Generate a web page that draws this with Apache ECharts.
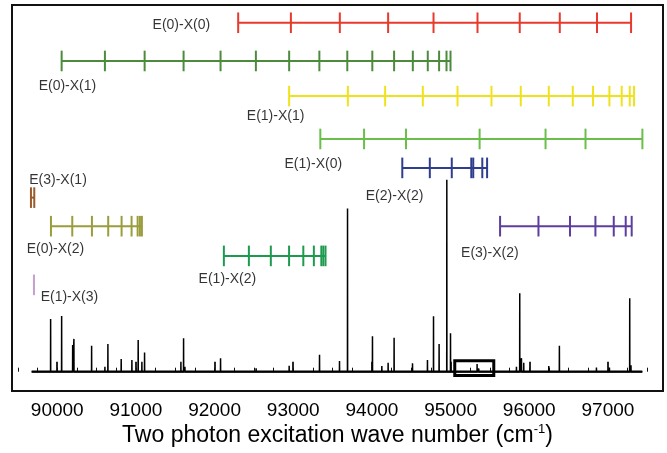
<!DOCTYPE html>
<html><head><meta charset="utf-8">
<script src="https://cdn.jsdelivr.net/npm/echarts@6/dist/echarts.min.js"></script>
<style>html,body{margin:0;padding:0;background:#fff}#c{width:667px;height:453px}</style>
</head><body><div id="c"></div>
<script>
// ---------- data (wave numbers in cm^-1, intensities in arbitrary units) ----------
const progE0X0 = [92300, 92970, 93592, 94206, 94783, 95342, 95879, 96388, 96861, 97294];
const progE0X1 = [90056, 90606, 91111, 91606, 92076, 92525, 92948, 93332, 93687, 94005, 94282, 94520, 94710, 94854, 94948, 94999];
const progE1X1 = [92948, 93694, 94168, 94647, 95088, 95520, 95892, 96248, 96553, 96811, 97019, 97175, 97277, 97332];
const progE1X0 = [93344, 93900, 94433, 95369, 96207, 96715, 97438];
const progE2X2 = [94386, 94736, 95015, 95263, 95288, 95403, 95464];
const progE3X1 = [89666, 89708];
const progE0X2 = [89920, 90191, 90441, 90648, 90818, 90945, 91022, 91051, 91076];
const progE3X2 = [95629, 96117, 96518, 96841, 97074, 97226, 97302];
const progE1X2 = [92118, 92436, 92715, 92947, 93128, 93262, 93357, 93382, 93410];
const progE1X3 = [89704];

// spectrum: [wave number, intensity]
const peaks = [
  [89916, 13.65], [90056, 14.4], [90196, 6.9], [90212, 8.5], [90437, 6.7], [90606, 1.3], [90644, 7.2],
  [90813, 3.3], [90949, 3.0], [91029, 8.2], [91076, 2.6], [91110, 5.0], [91572, 2.6], [91606, 8.65],
  [91623, 1.3], [92076, 3.5], [92528, 0.9], [92715, 0.5], [92948, 1.55], [93334, 4.4], [93588, 2.8],
  [93690, 42.3], [94007, 9.2], [94126, 1.5], [94206, 2.3], [94282, 8.8], [94516, 2.2], [94706, 3.0],
  [94783, 14.35], [94854, 7.2], [94952, 49.7], [94999, 9.95], [95337, 2.0], [95358, 0.8], [95837, 1.3],
  [95879, 20.3], [95901, 3.5], [95930, 2.3], [96248, 1.5], [96383, 6.7], [96854, 1.1], [97019, 1.1],
  [97166, 0.5], [97277, 19.0], [97293, 1.65], [97336, 0.5]
];
const noise = [
  [90400, 0.2], [90470, 0.25], [90520, 0.2], [91160, 0.35], [91200, 0.3], [91250, 0.4], [91300, 0.3],
  [91350, 0.35], [91400, 0.3], [91450, 0.35], [91500, 0.4], [91540, 0.35], [93720, 0.4], [93780, 0.35],
  [93850, 0.35], [93920, 0.3], [94050, 0.4], [94090, 0.35], [95680, 0.25], [95740, 0.35], [95790, 0.4],
  [95990, 0.3], [96060, 0.35], [96120, 0.3], [96180, 0.4], [96300, 0.35]
];
const specRange = [89675, 97437];
const boxRange = [95053, 95549];
const boxIntensity = [-1.0, 2.85];
const tickLabels = ['90000', '91000', '92000', '93000', '94000', '95000', '96000', '97000'];

// ---------- layout ----------
const FONT = '"Liberation Sans", Arial, Helvetica, sans-serif';
const G = {left: 12, top: 5, width: 651, height: 386};
const X0 = 89425, X1 = 97700, Y0 = -5, Y1 = 95;
const ppu = G.width / (X1 - X0);
function subGrid(a, b) { return {left: G.left + (a - X0) * ppu, top: G.top, width: (b - a) * ppu, height: G.height}; }

const rows = [
  {name: 'E(0)-X(0)', ticks: progE0X0, color: '#e8392d', level: 90.4, label: [91212, 89.8]},
  {name: 'E(0)-X(1)', ticks: progE0X1, color: '#4d8b3c', level: 80.5, label: [89764, 74.0]},
  {name: 'E(1)-X(1)', ticks: progE1X1, color: '#efe21b', level: 71.4, label: [92410, 66.3]},
  {name: 'E(1)-X(0)', ticks: progE1X0, color: '#6abf4b', level: 60.3, label: [92889, 53.8]},
  {name: 'E(2)-X(2)', ticks: progE2X2, color: '#2f3d8f', level: 52.8, label: [93922, 45.5]},
  {name: 'E(3)-X(1)', ticks: progE3X1, color: '#9c5a2b', level: 45.1, label: [89644, 49.7]},
  {name: 'E(0)-X(2)', ticks: progE0X2, color: '#9b9c3c', level: 37.7, label: [89611, 31.8]},
  {name: 'E(3)-X(2)', ticks: progE3X2, color: '#5e3d9c', level: 37.7, label: [95133, 30.7]},
  {name: 'E(1)-X(2)', ticks: progE1X2, color: '#1e9a4f', level: 30.0, label: [91797, 23.9]},
  {name: 'E(1)-X(3)', ticks: progE1X3, color: '#c59fce', level: 22.5, label: [89789, 19.4]}
];

// spectrum polyline built from peak list
const all = peaks.concat(noise).sort((a, b) => a[0] - b[0]);
const spec = [[specRange[0], 0]];
all.forEach(p => { spec.push([p[0] - 1.2, 0], [p[0], p[1]], [p[0] + 1.2, 0]); });
spec.push([specRange[1], 0]);

const series = [];
series.push({
  type: 'line', xAxisIndex: 0, yAxisIndex: 0, data: spec, showSymbol: false, silent: true,
  lineStyle: {color: '#000', width: 1.5}, z: 3,
  markArea: {silent: true, itemStyle: {color: 'rgba(0,0,0,0)', borderColor: '#000', borderWidth: 3},
    data: [[{xAxis: boxRange[0], yAxis: boxIntensity[0]}, {xAxis: boxRange[1], yAxis: boxIntensity[1]}]]}
});
series.push({
  type: 'line', xAxisIndex: 0, yAxisIndex: 0, data: [[specRange[0], 0], [specRange[1], 0]],
  showSymbol: false, silent: true, lineStyle: {color: '#000', width: 2.2}, z: 3
});
rows.forEach(r => {
  const t0 = r.ticks[0], t1 = r.ticks[r.ticks.length - 1];
  if (t1 > t0) {
    series.push({type: 'line', xAxisIndex: 0, yAxisIndex: 0, data: [[t0, r.level], [t1, r.level]],
      showSymbol: false, silent: true, lineStyle: {color: r.color, width: 2}, z: 4});
  }
  series.push({type: 'scatter', xAxisIndex: 0, yAxisIndex: 0, data: r.ticks.map(t => [t, r.level]),
    symbol: 'rect', symbolSize: [2, 20.6], silent: true, itemStyle: {color: r.color, opacity: 1}, z: 4});
  series.push({type: 'scatter', xAxisIndex: 0, yAxisIndex: 0, data: [r.label], symbolSize: 0, silent: true,
    label: {show: true, position: 'right', distance: 0, formatter: r.name, color: '#000',
      fontSize: 14, fontFamily: FONT}, z: 5});
});

const hiddenY = i => ({gridIndex: i, type: 'value', min: Y0, max: Y1, show: false});
const option = {
  backgroundColor: '#fff',
  animation: false,
  grid: [
    Object.assign({show: true, borderColor: '#111', borderWidth: 2, backgroundColor: 'transparent'}, G),
    subGrid(90000, 97000),
    subGrid(89500, 97500)
  ],
  xAxis: [
    {gridIndex: 0, type: 'value', min: X0, max: X1, axisLine: {show: false}, axisTick: {show: false},
      axisLabel: {show: false}, splitLine: {show: false},
      name: '{a|Two photon excitation wave number (cm}{s|-1}{a|)}', nameLocation: 'middle', nameGap: 32,
      nameTextStyle: {color: '#000', rich: {
        a: {fontSize: 23, fontFamily: FONT, color: '#000'},
        s: {fontSize: 13, fontFamily: FONT, color: '#000', padding: [0, 0, 12, 0]}}}},
    {gridIndex: 1, type: 'value', min: 90000, max: 97000, interval: 1000, axisLine: {show: false},
      axisTick: {show: true, inside: true, length: 10, lineStyle: {color: '#111', width: 1.8}},
      axisLabel: {show: true, margin: 10, fontSize: 19, fontFamily: FONT, color: '#000',
        showMinLabel: true, showMaxLabel: true,
        formatter: v => tickLabels[Math.round((v - 90000) / 1000)] || ''},
      splitLine: {show: false}},
    {gridIndex: 2, type: 'value', min: 89500, max: 97500, interval: 250, axisLine: {show: false},
      axisTick: {show: true, inside: true, length: 4, lineStyle: {color: '#111', width: 1}},
      axisLabel: {show: false}, splitLine: {show: false}}
  ],
  yAxis: [hiddenY(0), hiddenY(1), hiddenY(2)],
  series: series
};
const chart = echarts.init(document.getElementById('c'), null, {renderer: 'canvas'});
chart.setOption(option);
</script>
</body></html>
